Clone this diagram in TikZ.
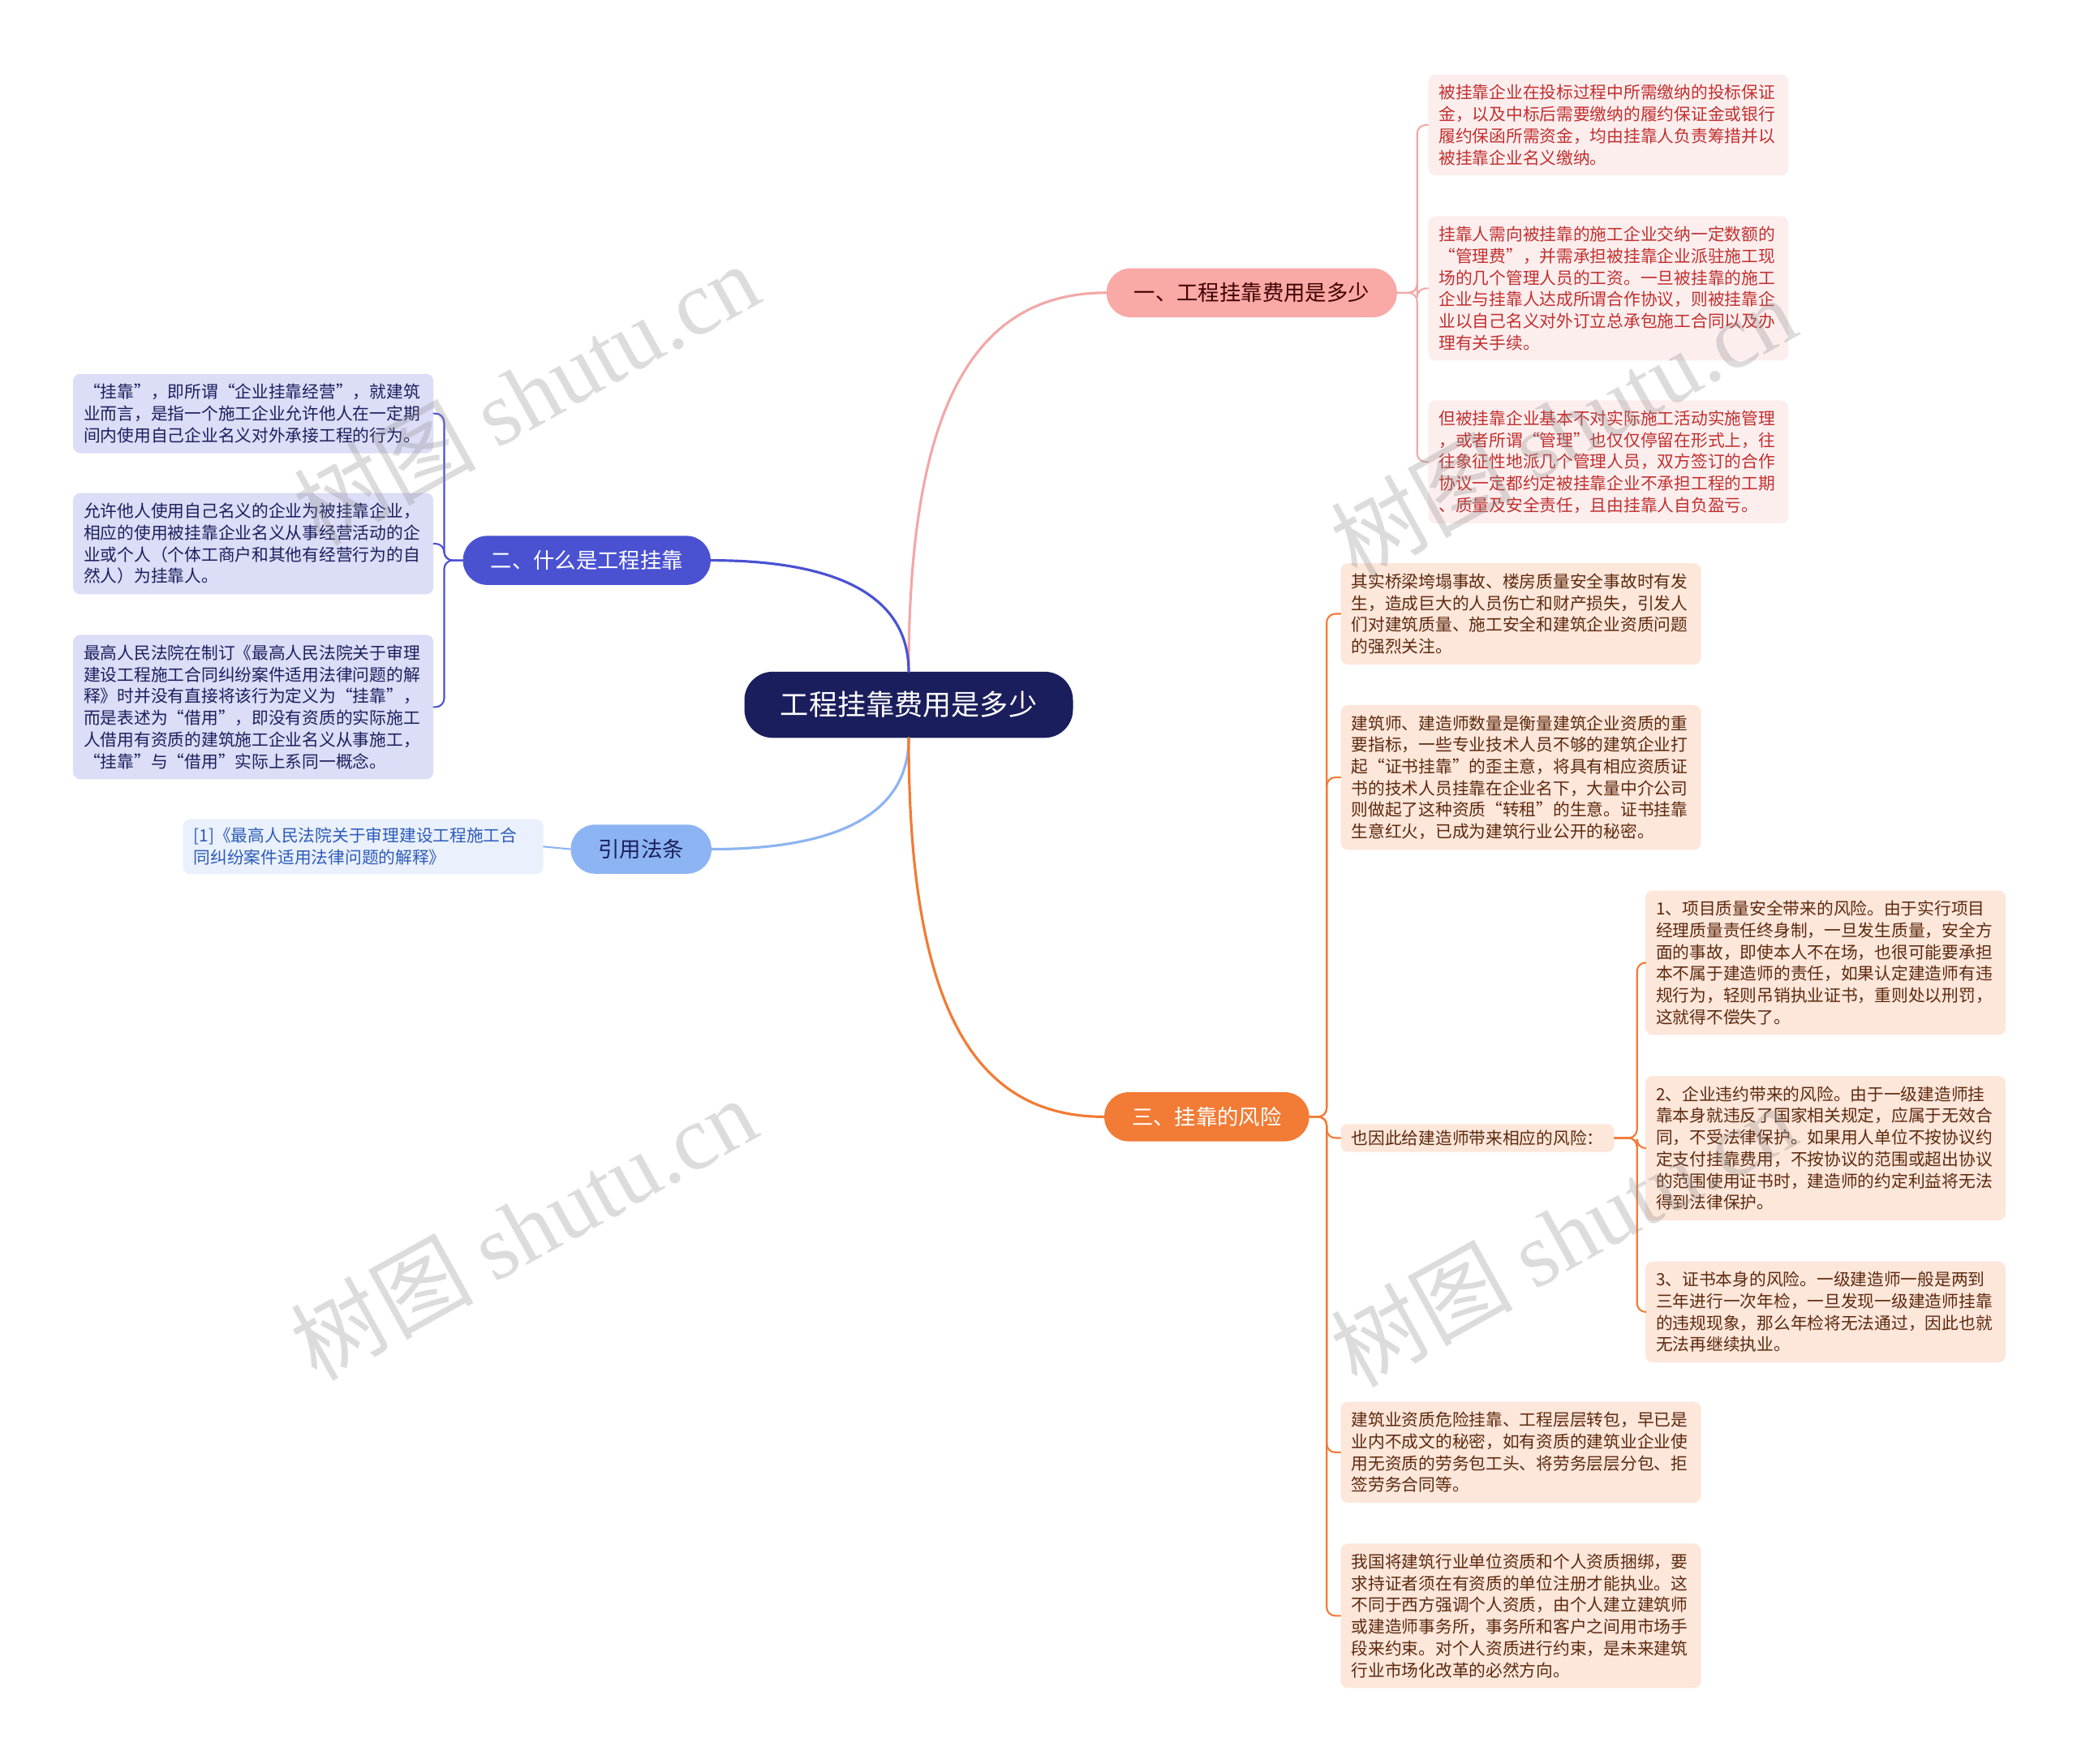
\documentclass[tikz,border=0pt]{standalone}
\usepackage{fontspec}
\setmainfont{Noto Sans CJK SC}
\newfontfamily\wmfont{Liberation Serif}

\definecolor{rootfill}{HTML}{1B1E5C}
\definecolor{feefill}{HTML}{F9A9A6}
\definecolor{feeline}{HTML}{F2A8A8}
\definecolor{feeleaf}{HTML}{FDEEEE}
\definecolor{feetext}{HTML}{C0302F}
\definecolor{whatfill}{HTML}{4A52D2}
\definecolor{whatleaf}{HTML}{DCDDF6}
\definecolor{whattext}{HTML}{1B1F5E}
\definecolor{lawfill}{HTML}{8DB4F2}
\definecolor{lawleaf}{HTML}{EAF1FC}
\definecolor{lawtext}{HTML}{2D5BB8}
\definecolor{riskfill}{HTML}{F27B35}
\definecolor{riskleaf}{HTML}{FDE6DA}
\definecolor{risktext}{HTML}{5C2A0E}

\tikzset{
  topic/.style={rounded corners=0.6cm, minimum height=1.21cm, inner xsep=0.68cm,
    font=\fontsize{15}{18}\selectfont},
  leaf/.style={rounded corners=5pt, anchor=north west, text width=8.36cm, align=left,
    inner xsep=0.26cm, inner ysep=0.25cm, font=\fontsize{11.8}{15.2}\selectfont},
  feebox/.style={leaf, fill=feeleaf, text=feetext},
  whatbox/.style={leaf, fill=whatleaf, text=whattext},
  lawbox/.style={leaf, fill=lawleaf, text=lawtext},
  riskbox/.style={leaf, fill=riskleaf, text=risktext},
  link/.style={line width=1.2pt, rounded corners=6pt},
  watermark/.style={rotate=29, text=black!45, text opacity=0.3,
    font=\fontsize{64}{64}\selectfont},
}

\begin{document}
\begin{tikzpicture}[x=0.03265cm,y=-0.03265cm,line cap=round,line join=round]
  \useasboundingbox (0,0) rectangle (1568,1331);

  % Root and main topics
  \node[rounded corners=0.7cm, fill=rootfill, text=white, minimum width=8.1cm,
    minimum height=1.63cm, font=\fontsize{20}{24}\selectfont] (root) at (686,532) {工程挂靠费用是多少};
  \node[topic, fill=feefill, text=black!75!red] (fee) at (945,221) {一、工程挂靠费用是多少};
  \node[topic, fill=whatfill, text=white] (what) at (443,423) {二、什么是工程挂靠};
  \node[topic, fill=lawfill, text=whattext] (law) at (484,641) {引用法条};
  \node[topic, fill=riskfill, text=white] (risk) at (911,843) {三、挂靠的风险};

  % Main curves
  \draw[feeline, line width=1.8pt] (root.north) .. controls +(0,-200) and +(-100,0) .. (fee.west);
  \draw[whatfill, line width=1.8pt] (what.east) .. controls +(90,0) and +(0,-60) .. (root.north);
  \draw[lawfill, line width=1.8pt] (law.east) .. controls +(90,0) and +(0,60) .. (root.south);
  \draw[riskfill, line width=1.8pt] (root.south) .. controls +(0,200) and +(-100,0) .. (risk.west);

  % Fee details
  \node[feebox] (fee1) at (1078,56) {被挂靠企业在投标过程中所需缴纳的投标保证\\金，以及中标后需要缴纳的履约保证金或银行\\履约保函所需资金，均由挂靠人负责筹措并以\\被挂靠企业名义缴纳。};
  \node[feebox] (fee2) at (1078,163) {挂靠人需向被挂靠的施工企业交纳一定数额的\\“管理费”，并需承担被挂靠企业派驻施工现\\场的几个管理人员的工资。一旦被挂靠的施工\\企业与挂靠人达成所谓合作协议，则被挂靠企\\业以自己名义对外订立总承包施工合同以及办\\理有关手续。};
  \node[feebox] (fee3) at (1078,302) {但被挂靠企业基本不对实际施工活动实施管理\\，或者所谓“管理”也仅仅停留在形式上，往\\往象征性地派几个管理人员，双方签订的合作\\协议一定都约定被挂靠企业不承担工程的工期\\、质量及安全责任，且由挂靠人自负盈亏。};
  \foreach \n in {fee1,fee2,fee3}
    \draw[link, feeline] (fee.east) -- ++(15,0) |- (\n.west);

  % What details
  \node[whatbox] (what1) at (55,282) {“挂靠”，即所谓“企业挂靠经营”，就建筑\\业而言，是指一个施工企业允许他人在一定期\\间内使用自己企业名义对外承接工程的行为。};
  \node[whatbox] (what2) at (55,372) {允许他人使用自己名义的企业为被挂靠企业，\\相应的使用被挂靠企业名义从事经营活动的企\\业或个人（个体工商户和其他有经营行为的自\\然人）为挂靠人。};
  \node[whatbox] (what3) at (55,479) {最高人民法院在制订《最高人民法院关于审理\\建设工程施工合同纠纷案件适用法律问题的解\\释》时并没有直接将该行为定义为“挂靠”，\\而是表述为“借用”，即没有资质的实际施工\\人借用有资质的建筑施工企业名义从事施工，\\“挂靠”与“借用”实际上系同一概念。};
  \foreach \n in {what1,what2,what3}
    \draw[link, whatfill] (what.west) -- ++(-14,0) |- (\n.east);

  % Law
  \node[lawbox, inner ysep=0.22cm] (law1) at (138,618) {[1]《最高人民法院关于审理建设工程施工合\\同纠纷案件适用法律问题的解释》};
  \draw[link, lawfill] (law.west) -- (law1.east);

  % Risk details
  \node[riskbox] (risk1) at (1012,425) {其实桥梁垮塌事故、楼房质量安全事故时有发\\生，造成巨大的人员伤亡和财产损失，引发人\\们对建筑质量、施工安全和建筑企业资质问题\\的强烈关注。};
  \node[riskbox] (risk2) at (1012,532) {建筑师、建造师数量是衡量建筑企业资质的重\\要指标，一些专业技术人员不够的建筑企业打\\起“证书挂靠”的歪主意，将具有相应资质证\\书的技术人员挂靠在企业名下，大量中介公司\\则做起了这种资质“转租”的生意。证书挂靠\\生意红火，已成为建筑行业公开的秘密。};
  \node[riskbox, anchor=west, text width=, inner ysep=0.15cm] (riskq) at (1012,859) {也因此给建造师带来相应的风险：};
  \node[riskbox] (risk4) at (1012,1058) {建筑业资质危险挂靠、工程层层转包，早已是\\业内不成文的秘密，如有资质的建筑业企业使\\用无资质的劳务包工头、将劳务层层分包、拒\\签劳务合同等。};
  \node[riskbox] (risk5) at (1012,1165) {我国将建筑行业单位资质和个人资质捆绑，要\\求持证者须在有资质的单位注册才能执业。这\\不同于西方强调个人资质，由个人建立建筑师\\或建造师事务所，事务所和客户之间用市场手\\段来约束。对个人资质进行约束，是未来建筑\\行业市场化改革的必然方向。};
  \foreach \n in {risk1,risk2,riskq,risk4,risk5}
    \draw[link, riskfill] (risk.east) -- ++(13,0) |- (\n.west);

  % The three risks
  \node[riskbox] (riska) at (1242,672) {1、项目质量安全带来的风险。由于实行项目\\经理质量责任终身制，一旦发生质量，安全方\\面的事故，即使本人不在场，也很可能要承担\\本不属于建造师的责任，如果认定建造师有违\\规行为，轻则吊销执业证书，重则处以刑罚，\\这就得不偿失了。};
  \node[riskbox] (riskb) at (1242,812) {2、企业违约带来的风险。由于一级建造师挂\\靠本身就违反了国家相关规定，应属于无效合\\同，不受法律保护。如果用人单位不按协议约\\定支付挂靠费用，不按协议的范围或超出协议\\的范围使用证书时，建造师的约定利益将无法\\得到法律保护。};
  \node[riskbox] (riskc) at (1242,952) {3、证书本身的风险。一级建造师一般是两到\\三年进行一次年检，一旦发现一级建造师挂靠\\的违规现象，那么年检将无法通过，因此也就\\无法再继续执业。};
  \foreach \n in {riska,riskb,riskc}
    \draw[link, riskfill] (riskq.east) -- ++(17,0) |- (\n.west);

  % Watermarks
  \node[watermark] (wm1) at (397,297) {树图 {\wmfont shutu.cn}};
  \node[watermark] (wm2) at (1180,322) {树图 {\wmfont shutu.cn}};
  \node[watermark] (wm3) at (395,927) {树图 {\wmfont shutu.cn}};
  \node[watermark] (wm4) at (1180,932) {树图 {\wmfont shutu.cn}};
\end{tikzpicture}
\end{document}
